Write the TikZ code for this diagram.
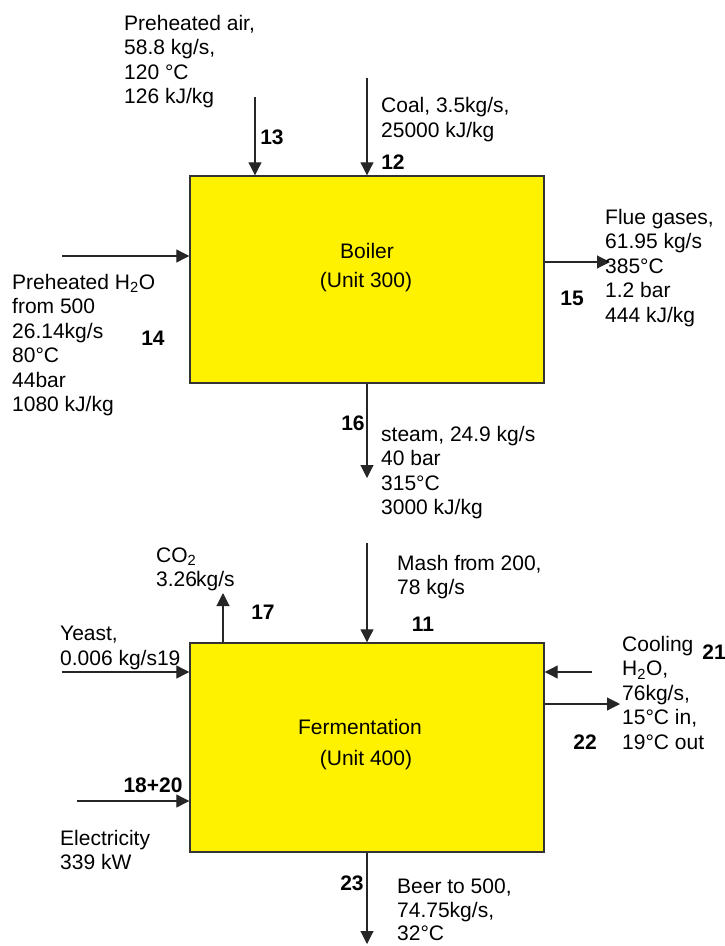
\documentclass[tikz,border=0pt]{standalone}
\usepackage{fontspec}
\setmainfont{Liberation Sans}
\usetikzlibrary{arrows.meta}
\begin{document}
\begin{tikzpicture}[x=1pt,y=-1pt,
  every node/.style={font=\fontsize{21}{24.5}\selectfont},
  unitbox/.style={draw=black!80,line width=1.4pt,fill=yellow,minimum width=354pt,inner sep=0pt},
  arr/.style={line width=1.1pt,draw=black!85,-{Triangle[length=13pt,width=13pt]}},
  info/.style={anchor=north west,align=left,inner sep=0pt},
  num/.style={font=\fontsize{21}{24.5}\selectfont\bfseries,inner sep=0pt}]
\useasboundingbox (0,0) rectangle (724,946);
% units
\node[unitbox,minimum height=207pt] (boiler) at (367,279.5) {};
\node[unitbox,minimum height=209pt] (ferm) at (367,747.5) {};
\node (bt1) at (367,251) {Boiler};
\node (bt2) at (366,282) {(Unit 300)};
\node (ft1) at (360,727) {Fermentation};
\node (ft2) at (366,760) {(Unit 400)};
% coordinates of free ends
\coordinate (c13) at (255,97);
\coordinate (c12) at (367,78);
\coordinate (c14) at (62,256);
\coordinate (c15) at (610,262);
\coordinate (c16) at (367,478);
\coordinate (c11) at (367,543);
\coordinate (c17) at (223,593);
\coordinate (c19) at (62,672);
\coordinate (c1820) at (77,801);
\coordinate (c21) at (592,672);
\coordinate (c22) at (620,704);
\coordinate (c23) at (367,944);
% connectors
\draw[arr] (c13) -- (c13 |- boiler.north);
\draw[arr] (c12) -- (c12 |- boiler.north);
\draw[arr] (c14) -- (c14 -| boiler.west);
\draw[arr] (c15 -| boiler.east) -- (c15);
\draw[arr] (c16 |- boiler.south) -- (c16);
\draw[arr] (c11) -- (c11 |- ferm.north);
\draw[arr] (c17 |- ferm.north) -- (c17);
\draw[arr] (c19) -- (c19 -| ferm.west);
\draw[arr] (c1820) -- (c1820 -| ferm.west);
\draw[arr] (c21) -- (c21 -| ferm.east);
\draw[arr] (c22 -| ferm.east) -- (c22);
\draw[arr] (c23 |- ferm.south) -- (c23);
% stream descriptions
\node[info] (t13) at (124,15) {Preheated air,\\58.8 kg/s,\\120 °C\\126 kJ/kg};
\node[info] (t12) at (381,97.5) {Coal, 3.5kg/s,\\25000 kJ/kg};
\node[info] (t15) at (605,209) {Flue gases,\\61.95 kg/s\\385°C\\1.2 bar\\444 kJ/kg};
\node[info] (t14) at (12,274) {Preheated H\textsubscript{2}O\\from 500\\26.14kg/s\\80°C\\44bar\\1080 kJ/kg};
\node[info] (t16) at (381,426) {steam, 24.9 kg/s\\40 bar\\315°C\\3000 kJ/kg};
\node[info] (t11) at (397,555) {Mash fr{\kern-1.5pt}om 200,\\78 kg/s};
\node[info] (t17) at (156,547.5) {CO\textsubscript{2}\\3.26{\kern-1pt}kg/s};
\node[info] (t19) at (60,626) {Yeast,\\0.006 kg/s19};
\node[info] (t1820) at (60,830) {Electricity\\339 kW};
\node[info] (t21) at (622,636) {Cooling\\H\textsubscript{2}O,\\76kg/s,\\15°C in,\\19°C out};
\node[info,font=\fontsize{21}{23.5}\selectfont] (t23) at (397,879) {Beer to 500,\\74.75kg/s,\\32°C};
% stream numbers
\node[num] (n13) at (272,137) {13};
\node[num] (n12) at (393,162) {12};
\node[num] (n14) at (153,338) {14};
\node[num] (n15) at (572,298) {15};
\node[num] (n16) at (353,423) {16};
\node[num] (n11) at (423,624) {11};
\node[num] (n17) at (263,612) {17};
\node[num] (n1820) at (153,785) {18+20};
\node[num] (n21) at (714,652) {21};
\node[num] (n22) at (585,742) {22};
\node[num] (n23) at (352,883) {23};
\end{tikzpicture}
\end{document}
